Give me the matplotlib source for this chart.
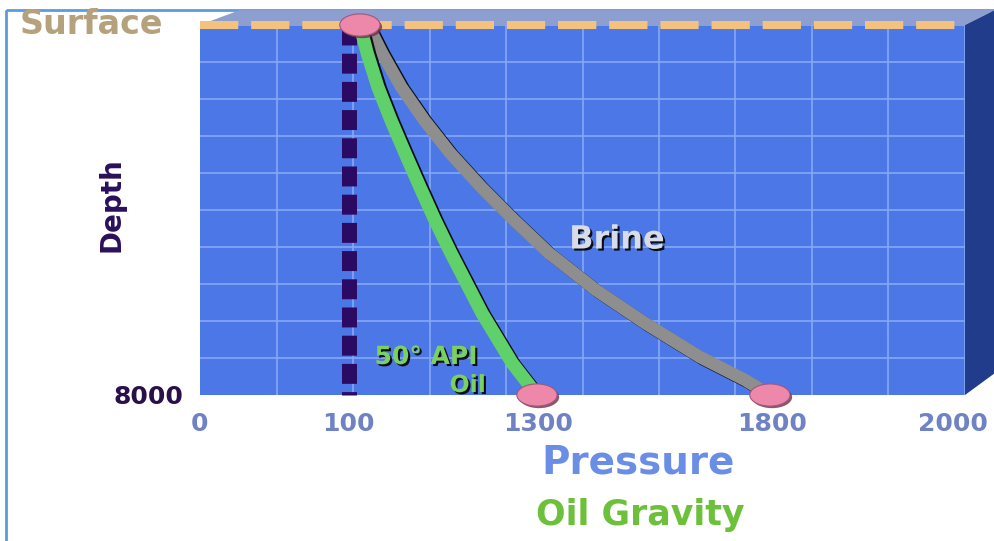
import matplotlib
matplotlib.use("Agg")
import matplotlib.pyplot as plt
import matplotlib.patheffects as pe
from matplotlib.patches import Polygon, Rectangle
from matplotlib.path import Path

# pressure-depth curves (x in chart pressure units 0..2000, depth 0..8000)
oil_x = [418, 437, 465, 499, 536, 575, 614, 656, 737, 816, 881]
oil_depth = [0, 605, 1340, 2054, 2768, 3503, 4216, 4930, 6227, 7308, 8000]
brine_x = [439, 476, 526, 586, 654, 735, 821, 912, 1035, 1163, 1307, 1425, 1490]
brine_depth = [0, 605, 1340, 2054, 2768, 3503, 4216, 4930, 5730, 6443, 7178, 7676, 8000]
hydro_x = 390  # dashed reference line ("100")

tick_pos = [0, 387, 884, 1495, 1968]
tick_labels = ["0", "100", "1300", "1800", "2000"]

FONT = "DejaVu Sans"
FACE = "#4b78e6"
GRID = "#86a8f8"

fig = plt.figure(figsize=(9.95, 5.41), dpi=100)
fig.patch.set_facecolor("white")

# background axes in pixel coordinates for the box decoration and outer labels
bg = fig.add_axes([0, 0, 1, 1])
bg.set_xlim(0, 995)
bg.set_ylim(541, 0)
bg.axis("off")
bg.add_patch(Rectangle((6, 10), 1100, 600, fill=False, ec="#5b9be0", lw=2))
bg.add_patch(Polygon([(200, 25), (240, 10), (995, 10), (965, 25)], closed=True, fc="#8d9fd0", ec="none"))
bg.add_patch(Polygon([(965, 25), (995, 10), (995, 373), (965, 395)], closed=True, fc="#223c8c", ec="none"))

bg.text(20, 25, "Surface", ha="left", va="center", color="#b5a27c", fontsize=24,
        fontweight="bold", family=FONT)
bg.text(112, 205, "Depth", ha="center", va="center", rotation=90, color="#2a0f5c",
        fontsize=20, fontweight="bold", family=FONT)
bg.text(638, 463, "Pressure", ha="center", va="center", color="#6a8ee6", fontsize=28,
        fontweight="bold", family=FONT)
bg.text(640, 515, "Oil Gravity", ha="center", va="center", color="#6cc03a", fontsize=25,
        fontweight="bold", family=FONT)

ax = fig.add_axes([200 / 995, (541 - 395) / 541, 765 / 995, 370 / 541])
ax.set_facecolor(FACE)
ax.set_xlim(0, 2000)
ax.set_ylim(8000, 0)
ax.set_xticks(range(0, 2001, 200), minor=True)
ax.set_yticks(range(0, 8001, 800), minor=True)
ax.grid(which="minor", color=GRID, lw=1.2)
ax.set_axisbelow(True)
for s in ax.spines.values():
    s.set_visible(False)

ax.set_xticks(tick_pos)
ax.set_xticklabels(tick_labels, color="#6f83c4", fontsize=18, fontweight="bold", family=FONT)
ax.set_yticks([8000])
ax.set_yticklabels(["8000"], color="#2a1048", fontsize=18, fontweight="bold", family=FONT)
ax.tick_params(which="both", length=0)
ax.tick_params(axis="x", pad=12)
ax.tick_params(axis="y", pad=12)

# surface line and hydrostatic reference
ax.axhline(0, color="#f5c27e", lw=5.8, dashes=(4.75, 1.6), clip_on=False, zorder=3)
ax.plot([hydro_x, hydro_x], [0, 8000], color="#2a0a62", lw=10.8, dashes=(1.33, 0.55),
        solid_capstyle="butt", dash_capstyle="butt", zorder=3, clip_on=False)

shadow = [pe.SimpleLineShadow(offset=(2, -1.5), shadow_color="black", alpha=0.9), pe.Normal()]
ax.plot(brine_x, brine_depth, color="#8e8e8e", lw=9, solid_capstyle="round",
        solid_joinstyle="round", path_effects=shadow, zorder=4)
ax.plot(oil_x, oil_depth, color="#60d06a", lw=9.5, solid_capstyle="round",
        solid_joinstyle="round", path_effects=shadow, zorder=5)

circ = Path.unit_circle()
ellipse = Path(circ.vertices * [1, 0.55], circ.codes)
ends_x = [oil_x[0], oil_x[-1], brine_x[-1]]
ends_y = [oil_depth[0], oil_depth[-1], brine_depth[-1]]
ax.plot(ends_x, ends_y, ls="none", marker=ellipse, markersize=29, color="#ee88aa",
        mec="#a05878", mew=0.8, clip_on=False, zorder=6,
        path_effects=[pe.SimplePatchShadow(offset=(1.5, -1.5), shadow_rgbFace="#6a3048", alpha=0.8), pe.Normal()])

txt_shadow = [pe.SimplePatchShadow(offset=(1.5, -1.5), shadow_rgbFace="black", alpha=0.9), pe.Normal()]
ax.text(1090, 4649, "Brine", ha="center", va="center", color="#d8dce8", fontsize=23,
        fontweight="bold", family=FONT, path_effects=txt_shadow, zorder=7)
ax.text(591, 7178, "50° API", ha="center", va="center", color="#7ad060", fontsize=18,
        fontweight="bold", family=FONT, path_effects=txt_shadow, zorder=7)
ax.text(700, 7784, "Oil", ha="center", va="center", color="#7ad060", fontsize=17,
        fontweight="bold", family=FONT, path_effects=txt_shadow, zorder=7)

fig.savefig("out.png", dpi=100)
